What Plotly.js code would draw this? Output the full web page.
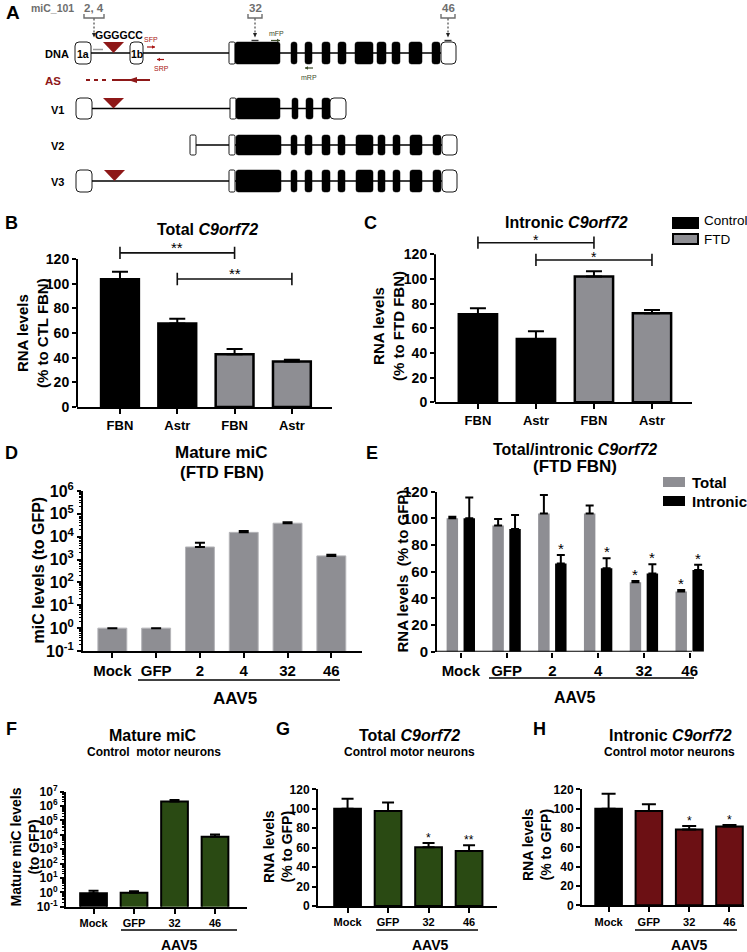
<!DOCTYPE html>
<html><head><meta charset="utf-8">
<script src="https://cdn.plot.ly/plotly-3.0.1.min.js"></script>
<style>html,body{margin:0;padding:0;background:#fff;}#chart{width:747px;height:952px;}</style>
</head><body><div id="chart"></div>
<script>
// ================= DATA =================
// Panel A - gene diagram, exon extents in diagram units [start, end, kind]  (u = UTR box, c = coding)
const dnaExons = [[75,91,'u','1a'],[130,143,'u','1b'],[229,235,'u'],[235,280,'c'],[291,297,'c'],[305,312,'c'],[322,330,'c'],[338,346,'c'],[355,373,'c'],[377,386,'c'],[392,400,'c'],[409,422,'c'],[432,440,'c'],[441,456,'u']];
const v1Exons = [[76,92,'u'],[230,236,'u'],[236,280,'c'],[292,298,'c'],[306,313,'c'],[322,330,'c'],[330,346,'u']];
const v2Exons = [[190,196,'u'],[229,235,'u'],[236,281,'c'],[291,297,'c'],[305,312,'c'],[322,330,'c'],[338,345,'c'],[356,373,'c'],[378,385,'c'],[393,400,'c'],[410,422,'c'],[433,441,'c'],[442,457,'u']];
const v3Exons = [[76,92,'u'],[229,235,'u'],[236,281,'c'],[291,297,'c'],[305,312,'c'],[322,330,'c'],[338,345,'c'],[356,373,'c'],[378,385,'c'],[393,400,'c'],[410,422,'c'],[433,441,'c'],[442,457,'u']];
const transcriptRows = ['DNA','V1','V2','V3'];
const repeatSites = {DNA:[103,124], V1:[103,124], V3:[104,125]};
const targetSites = [{label:'2, 4', at:94, lo:84, hi:104}, {label:'32', at:255, lo:248, hi:262}, {label:'46', at:448, lo:441, hi:455}];

// Panel B - Total C9orf72 (% to CTL FBN)
const bCategories = ['CTL FBN','CTL Astr','FTD FBN','FTD Astr'];
const bTickLabels = ['FBN','Astr','FBN','Astr'];
const bControl = [103.5, 67.8];
const bControlErr = [6.2, 3.8];
const bFTD = [42.7, 36.8];
const bFTDErr = [4.3, 1.6];
const bBrackets = [{from:'CTL FBN', to:'FTD FBN', y:125, label:'**'}, {from:'CTL Astr', to:'FTD Astr', y:103.8, label:'**'}];

// Panel C - Intronic C9orf72 (% to FTD FBN)
const cControl = [71.4, 51.4];
const cControlErr = [4.8, 6.2];
const cFTD = [101.9, 72.2];
const cFTDErr = [4.3, 2.7];
const cBrackets = [{from:'CTL FBN', to:'FTD FBN', y:129.4, label:'*'}, {from:'CTL Astr', to:'FTD Astr', y:115.4, label:'*'}];
const cLegend = ['Control','FTD'];

// Panel D - Mature miC (FTD FBN), log scale
const dCategories = ['Mock','GFP','2','4','32','46'];
const dMature = [1, 1, 3550, 15500, 39000, 1450];
const dMatureErr = [NaN, NaN, 1950, 2500, 3500, 180];

// Panel E - Total / intronic C9orf72 (FTD FBN)
const eCategories = ['Mock','GFP','2','4','32','46'];
const eTotal = [100, 94.7, 103.7, 103.7, 52, 45.2];
const eTotalErr = [1.2, 4.8, 13.8, 6, 1, 1];
const eIntronic = [100, 92, 66.2, 62.5, 58.7, 61.2];
const eIntronicErr = [15.7, 10.5, 6.3, 7.5, 6.8, 4];
const eTotalSig = ['','','','','*','*'];
const eIntronicSig = ['','','*','*','*','*'];
const eLegend = ['Total','Intronic'];

// Panel F - Mature miC, control motor neurons (log)
const fCategories = ['Mock','GFP','32','46'];
const fMature = [0.85, 0.93, 2.1e6, 7400];
const fMatureErr = [0.45, 0.24, 0.5e6, 3300];

// Panel G - Total C9orf72, control motor neurons
const gCategories = ['Mock','GFP','32','46'];
const gTotal = [100, 97.7, 60.3, 56.6];
const gTotalErr = [10.4, 8.6, 4.5, 5.8];
const gSig = ['','','*','**'];

// Panel H - Intronic C9orf72, control motor neurons
const hCategories = ['Mock','GFP','32','46'];
const hIntronic = [100, 97.6, 78.3, 81.4];
const hIntronicErr = [15.5, 6.9, 3.8, 1.7];
const hSig = ['','','*','*'];

// ================= STYLE / HELPERS =================
const W = 747, H = 952;
const FONT = '"Liberation Sans", Arial, Helvetica, sans-serif';
const GRAY = '#8e8e93', GREEN = '#2a4a13', MAROON = '#6c1014', DRED = '#8e1818', AGRAY = '#6e6e6e';
const xd = (a,b) => [a/W, b/W];
const yd = (top,bottom) => [1-bottom/H, 1-top/H];
const PX = x => x/W, PY = y => 1-y/H;

function rr(x0,y0,x1,y1,r){
  r = Math.min(r,(x1-x0)/2,(y1-y0)/2);
  return `M${x0+r},${y0} L${x1-r},${y0} Q${x1},${y0} ${x1},${y0+r} L${x1},${y1-r} Q${x1},${y1} ${x1-r},${y1} L${x0+r},${y1} Q${x0},${y1} ${x0},${y1-r} L${x0},${y0+r} Q${x0},${y0} ${x0+r},${y0} Z`;
}
const zeros = n => new Array(n).fill(0);
const supTxt = p => '10<sup>' + p + '</sup>';

const axBase = {showgrid:false, zeroline:false, fixedrange:true, linecolor:'#000', tickcolor:'#000'};
function catX(anchor, dom, range, vals, text, fs, showline){
  return Object.assign({}, axBase, {anchor, domain:dom, type:'category', range, tickmode:'array', tickvals:vals, ticktext:text,
    showline: showline!==false, linewidth:2, ticks:'outside', ticklen:5, tickwidth:2,
    tickfont:{family:FONT, size:fs, weight:'bold', color:'#000'}});
}
function numY(anchor, dom, range, tickvals, fs, showline){
  return Object.assign({}, axBase, {anchor, domain:dom, type:'linear', range, tickmode:'array', tickvals,
    showline, linewidth:2, ticks:'outside', ticklen:4, tickwidth:2,
    tickfont:{family:FONT, size:fs, weight:'bold', color:'#000'}});
}
function logY(anchor, dom, pmin, pmax, fs){
  const vals=[], txt=[], minor=[];
  for(let p=pmin;p<=pmax;p++){ vals.push(Math.pow(10,p)); txt.push(supTxt(p)); if(p<pmax) for(let m=2;m<=9;m++) minor.push(m*Math.pow(10,p)); }
  return Object.assign({}, axBase, {anchor, domain:dom, type:'log', range:[pmin,pmax], tickmode:'array', tickvals:vals, ticktext:txt,
    showline:true, linewidth:2, ticks:'outside', ticklen:4, tickwidth:2,
    minor:{ticks:'outside', ticklen:2, tickwidth:1, tickcolor:'#000', tickmode:'array', tickvals:minor},
    tickfont:{family:FONT, size:fs, weight:'bold', color:'#000'}});
}
function errs(arr, thick, w){ return {type:'data', symmetric:false, array:arr, arrayminus:zeros(arr.length), color:'#000', thickness:thick, width:w}; }

const traces = [];
const shapes = [];
const annotations = [];
function ann(text, x, y, size, opt){
  annotations.push(Object.assign({text, x:PX(x), y:PY(y), xref:'paper', yref:'paper', showarrow:false,
    xanchor:'center', yanchor:'middle', font:{family:FONT, size, color:'#000', weight:'bold'}}, opt||{}));
}
function dtext(text, x, y, size, color, bold){
  annotations.push({text, x, y, xref:'x', yref:'y', showarrow:false, xanchor:'center', yanchor:'middle', font:{family:FONT, size, color:color||'#000', weight:bold===false?'normal':'bold'}});
}

// ================= PANEL A (diagram axis x/y) =================
const rowY = {DNA:53, V1:108.5, V2:145, V3:181};
const rowH = {DNA:11, V1:10.5, V2:10, V3:11};
const rowExons = {DNA:dnaExons, V1:v1Exons, V2:v2Exons, V3:v3Exons};
transcriptRows.forEach(r => {
  const ex = rowExons[r], yc = rowY[r], h = rowH[r];
  shapes.push({type:'line', xref:'x', yref:'y', x0:ex[0][1], x1:ex[ex.length-1][0], y0:yc, y1:yc, line:{color:'#000', width:1.6}});
  ex.forEach(e => {
    const isC = e[2]==='c';
    const small = (e[1]-e[0]) < 8 && !isC;
    shapes.push({type:'path', xref:'x', yref:'y', path:rr(e[0], yc-h, e[1], yc+h, isC?2.5:(small?1.5:4)),
      fillcolor: isC?'#000':'#fff', line:{color:'#000', width:isC?0.5:0.9}});
    if(e[3]) dtext(e[3], (e[0]+e[1])/2, yc+0.5, 10.5);
  });
  if(repeatSites[r]){
    const s = repeatSites[r];
    shapes.push({type:'path', xref:'x', yref:'y', path:`M${s[0]},${yc-h} L${s[1]},${yc-h} L${(s[0]+s[1])/2},${yc} Z`, fillcolor:DRED, line:{width:0}});
  }
  dtext(r, 57, yc+1, 11);
});
// seed mark near exon 1a
shapes.push({type:'line', xref:'x', yref:'y', x0:93, x1:103, y0:49.5, y1:49.5, line:{color:'#999', width:1.5}});
// AS transcript
dtext('AS', 53, 81, 11.5, DRED);
shapes.push({type:'line', xref:'x', yref:'y', x0:86, x1:108, y0:80, y1:80, line:{color:DRED, width:2, dash:'4px,4px'}});
shapes.push({type:'line', xref:'x', yref:'y', x0:112, x1:150, y0:80, y1:80, line:{color:DRED, width:2}});
shapes.push({type:'path', xref:'x', yref:'y', path:'M128,80 L137,77 L137,83 Z', fillcolor:DRED, line:{width:0}});
// primers
function primer(x0,x1,y,color){
  shapes.push({type:'line', xref:'x', yref:'y', x0, x1, y0:y, y1:y, line:{color, width:1.2}});
  const d = x1>x0 ? -3 : 3;
  shapes.push({type:'path', xref:'x', yref:'y', path:`M${x1},${y} L${x1+d},${y-1.8} L${x1+d},${y+1.8} Z`, fillcolor:color, line:{width:0}});
}
primer(147,155,47,'#a81414'); primer(164,157,59.5,'#a81414');
primer(271,280,40.5,'#3d4d2a'); primer(313,305,68,'#3d4d2a');
[['SFP',151,39,'#a81414'],['SRP',161,68,'#a81414'],['mFP',276,33,'#3d4d2a'],['mRP',309,77,'#3d4d2a']].forEach(p=> dtext(p[0], p[1], p[2], 7, p[3], false));
// target sites + brackets
dtext('miC_101', 52, 8, 10.5, AGRAY);
dtext('GGGGCC', 118.5, 35, 10.5);
targetSites.forEach(t => {
  dtext(t.label, (t.lo+t.hi)/2, 8, 11.5, AGRAY);
  shapes.push({type:'path', xref:'x', yref:'y', path:`M${t.lo},14 L${t.lo},18 L${t.hi},18 L${t.hi},14`, line:{color:AGRAY, width:1.4}});
  shapes.push({type:'line', xref:'x', yref:'y', x0:t.at, x1:t.at, y0:18.5, y1:33, line:{color:'#222', width:1, dash:'2px,2px'}});
  shapes.push({type:'path', xref:'x', yref:'y', path:`M${t.at-2},33 L${t.at+2},33 L${t.at},37.5 Z`, fillcolor:'#222', line:{width:0}});
  if(t.at>200) shapes.push({type:'line', xref:'x', yref:'y', x0:t.at-3.5, x1:t.at+3.5, y0:40.5, y1:40.5, line:{color:'#333', width:1.4}});
});

// ================= PANELS B, C =================
const groupBar = (x,y,e,name,xa,ya,fill) => ({type:'bar', x, y, name, xaxis:xa, yaxis:ya, showlegend:false, offsetgroup:'g',
  marker:{color:fill, line:{color:'#000', width:2.5}}, error_y:errs(e,2,8)});
traces.push(groupBar(bCategories.slice(0,2), bControl, bControlErr, 'Control', 'x2','y2','#000'));
traces.push(groupBar(bCategories.slice(2), bFTD, bFTDErr, 'FTD', 'x2','y2',GRAY));
traces.push(groupBar(bCategories.slice(0,2), cControl, cControlErr, 'Control', 'x3','y3','#000'));
traces.push(groupBar(bCategories.slice(2), cFTD, cFTDErr, 'FTD', 'x3','y3',GRAY));
function brackets(list, xa, ya, half, size, yshift){
  list.forEach(b => {
    const i0 = bCategories.indexOf(b.from), i1 = bCategories.indexOf(b.to);
    shapes.push({type:'path', xref:xa, yref:ya, path:`M${i0},${b.y-half} L${i0},${b.y+half} M${i0},${b.y} L${i1},${b.y} M${i1},${b.y-half} L${i1},${b.y+half}`, line:{color:'#111', width:1.6}});
    annotations.push({text:b.label, x:(i0+i1)/2, y:b.y, xref:xa, yref:ya, yanchor:'bottom', yshift, showarrow:false, font:{family:FONT,size:size,color:'#000'}});
  });
}
brackets(bBrackets,'x2','y2',5,15,-5);
brackets(cBrackets,'x3','y3',5,14,-7);
shapes.push({type:'line', xref:'x2 domain', yref:'y2', x0:0, x1:0, y0:0, y1:120, line:{color:'#000', width:2}});
shapes.push({type:'line', xref:'x3 domain', yref:'y3', x0:0, x1:0, y0:0, y1:120, line:{color:'#000', width:2}});
// legend C
[[cLegend[0],'#000',218,228,220],[cLegend[1],GRAY,234,244,239]].forEach(l=>{
  shapes.push({type:'rect', xref:'paper', yref:'paper', x0:PX(673), x1:PX(698), y0:PY(l[3]), y1:PY(l[2]), fillcolor:l[1], line:{color:'#000', width:2}});
  ann(l[0], 702, l[4], 13.5, {xanchor:'left', font:{family:FONT,size:13.5,color:'#000',weight:'normal'}});
});

// ================= PANEL D =================
traces.push({type:'bar', x:dCategories, y:dMature, xaxis:'x4', yaxis:'y4', showlegend:false, marker:{color:GRAY, line:{color:'#b4b4b8', width:1}}, error_y:errs(dMatureErr,2,5)});

// ================= PANEL E =================
const eW = 0.25, eOffT = -0.31, eOffI = 0.06;
traces.push({type:'bar', name:eLegend[0], x:eCategories, y:eTotal, xaxis:'x5', yaxis:'y5', showlegend:false, width:eW, offset:eOffT,
  marker:{color:GRAY, line:{width:0}}, error_y:errs(eTotalErr,2,4)});
traces.push({type:'bar', name:eLegend[1], x:eCategories, y:eIntronic, xaxis:'x5', yaxis:'y5', showlegend:false, width:eW, offset:eOffI,
  marker:{color:'#000', line:{width:0}}, error_y:errs(eIntronicErr,2,4)});
const eRange = [-0.52, 5.35], eDom = xd(437,705.7), eAxisEnd = 5.05;
const ePxPerUnit = (eDom[1]-eDom[0])*W/(eRange[1]-eRange[0]);
shapes.push({type:'line', xref:'x5', yref:'y5', x0:eRange[0], x1:eAxisEnd, y0:0, y1:0, line:{color:'#000', width:2}});
function starAnn(i, y, txt, xa, ya, xshift, size){ if(txt) annotations.push({text:txt, x:i, y, xref:xa, yref:ya, xshift, yanchor:'bottom', yshift:-4, showarrow:false, font:{family:FONT,size,color:'#000'}}); }
eCategories.forEach((c,i)=>{
  starAnn(i, eTotal[i]+eTotalErr[i], eTotalSig[i], 'x5','y5', (eOffT+eW/2)*ePxPerUnit, 15);
  starAnn(i, eIntronic[i]+eIntronicErr[i], eIntronicSig[i], 'x5','y5', (eOffI+eW/2)*ePxPerUnit, 15);
});
[[eLegend[0],GRAY,477,487,482],[eLegend[1],'#000',496,506,501]].forEach(l=>{
  shapes.push({type:'rect', xref:'paper', yref:'paper', x0:PX(663), x1:PX(685), y0:PY(l[3]), y1:PY(l[2]), fillcolor:l[1], line:{width:0}});
  ann(l[0], 690, l[4], 15, {xanchor:'left'});
});

// ================= PANELS F, G, H =================
const colorsFor = (cats, c) => cats.map(k => k==='Mock' ? '#000' : c);
traces.push({type:'bar', x:fCategories, y:fMature, xaxis:'x6', yaxis:'y6', showlegend:false, marker:{color:colorsFor(fCategories,GREEN), line:{color:'#000', width:2}}, error_y:errs(fMatureErr,2,5)});
traces.push({type:'bar', x:gCategories, y:gTotal, xaxis:'x7', yaxis:'y7', showlegend:false, marker:{color:colorsFor(gCategories,GREEN), line:{color:'#000', width:2}}, error_y:errs(gTotalErr,2,6)});
traces.push({type:'bar', x:hCategories, y:hIntronic, xaxis:'x8', yaxis:'y8', showlegend:false, marker:{color:colorsFor(hCategories,MAROON), line:{color:'#000', width:2}}, error_y:errs(hIntronicErr,2,7)});
gCategories.forEach((c,i)=> starAnn(i, gTotal[i]+gTotalErr[i], gSig[i], 'x7','y7', 0, 12));
hCategories.forEach((c,i)=> starAnn(i, hIntronic[i]+hIntronicErr[i], hSig[i], 'x8','y8', 0, 12));

// ================= TEXT =================
[['A',13,13,19],['B',12,223,18],['C',370,223,18],['D',12,453,18],['E',372,453,18],['F',11,729,18],['G',283,729,18],['H',539,729,18]].forEach(l=>ann(l[0],l[1],l[2],l[3]));
ann('Total <i>C9orf72</i>', 207, 229, 16);
ann('Intronic <i>C9orf72</i>', 566, 222, 16);
ann('Mature miC', 222, 452, 17);
ann('(FTD FBN)', 222, 472, 17);
ann('Total/intronic <i>C9orf72</i>', 575, 449, 16);
ann('(FTD FBN)', 575, 466, 17);
ann('Mature miC', 153, 735, 16);
ann('Control  motor neurons', 154, 752, 12);
ann('Total <i>C9orf72</i>', 409, 735, 16);
ann('Control motor neurons', 409, 752, 12);
ann('Intronic <i>C9orf72</i>', 670, 735, 16);
ann('Control motor neurons', 669, 752, 12);
// y-axis titles
const rot = {textangle:-90};
ann('RNA levels<br>(% to CTL FBN)', 32, 333, 15, rot);
ann('RNA levels<br>(% to FTD FBN)', 388, 326, 15, rot);
ann('miC levels (to GFP)', 37.5, 570, 16, rot);
ann('RNA levels  (% to GFP)', 401.5, 571, 15, rot);
ann('Mature miC levels<br>(to GFP)', 24.5, 847, 14, rot);
ann('RNA levels<br>(% to GFP)', 278, 847, 14, rot);
ann('RNA levels<br>(% to GFP)', 537, 845, 14, rot);
// AAV5 group lines
[[138,340,680,235,698,17],[489,694,678,575,697,16],[121,237,930,179,945,14],[376,478,930,430,945,14],[635,737,930,689,945,14]].forEach(g=>{
  shapes.push({type:'line', xref:'paper', yref:'paper', x0:PX(g[0]), x1:PX(g[1]), y0:PY(g[2]), y1:PY(g[2]), line:{color:'#000', width:1.3}});
  ann('AAV5', g[3], g[4], g[5]);
});

// ================= LAYOUT =================
const layout = {
  width:W, height:H, margin:{l:0,r:0,t:0,b:0}, paper_bgcolor:'#fff', plot_bgcolor:'rgba(0,0,0,0)',
  font:{family:FONT, color:'#000'}, barmode:'group', bargap:0.34, showlegend:false,
  xaxis:{domain:[0,1], range:[0,W], visible:false, fixedrange:true, anchor:'y'},
  yaxis:{domain:yd(0,200), range:[200,0], visible:false, fixedrange:true, anchor:'x'},
  xaxis2:catX('y2', xd(77,332), [-0.75,3.7], bCategories, bTickLabels, 13),
  yaxis2:numY('x2', yd(240.5,407), [0,135], [0,20,40,60,80,100,120], 14, false),
  xaxis3:catX('y3', xd(435,692), [-0.74,3.69], bCategories, bTickLabels, 13),
  yaxis3:numY('x3', yd(233.3,402.3), [0,137], [0,20,40,60,80,100,120], 14, false),
  xaxis4:catX('y4', xd(83,362), [-0.67,5.7], dCategories, dCategories, 15),
  yaxis4:logY('x4', yd(491,651), -1, 6, 16),
  xaxis5:catX('y5', eDom, eRange, eCategories, eCategories, 15, false),
  yaxis5:numY('x5', yd(491.7,651.7), [0,120], [0,20,40,60,80,100,120], 15, true),
  xaxis6:catX('y6', xd(66,247), [-0.68,3.79], fCategories, fCategories, 11),
  yaxis6:logY('x6', yd(791.7,906.7), -1, 7, 12),
  xaxis7:catX('y7', xd(318,497), [-0.73,3.69], gCategories, gCategories, 11),
  yaxis7:numY('x7', yd(789.3,906), [0,120], [0,20,40,60,80,100,120], 12, true),
  xaxis8:catX('y8', xd(582,744), [-0.66,3.36], hCategories, hCategories, 11),
  yaxis8:numY('x8', yd(789.3,905.3), [0,120], [0,20,40,60,80,100,120], 12, true),
  shapes, annotations
};
Plotly.newPlot('chart', traces, layout, {displayModeBar:false, staticPlot:true});
</script></body></html>
